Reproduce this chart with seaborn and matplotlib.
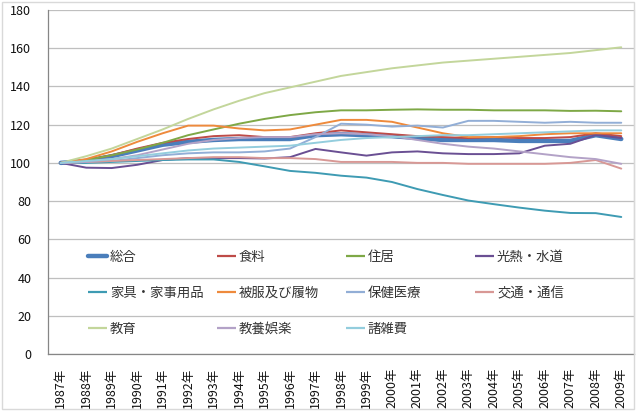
import matplotlib
matplotlib.use("Agg")
import matplotlib.pyplot as plt
from matplotlib.patches import Rectangle
from matplotlib.lines import Line2D
from matplotlib.ticker import FixedLocator, MultipleLocator
import numpy as np
import pandas as pd
import seaborn as sns

years = ["1987年", "1988年", "1989年", "1990年", "1991年", "1992年", "1993年", "1994年",
         "1995年", "1996年", "1997年", "1998年", "1999年", "2000年", "2001年", "2002年",
         "2003年", "2004年", "2005年", "2006年", "2007年", "2008年", "2009年"]

sogo = [100, 101, 103.5, 106.5, 109.5, 111, 112, 112.5, 112.5, 112.5, 114.5, 115, 114.5,
        114, 113, 112, 112, 112, 111.5, 111.5, 111.5, 114.5, 112.5]
shokuryo = [100, 101.5, 104, 107.5, 110.5, 112.5, 114, 114.5, 113.5, 113.5, 115.5, 117, 116,
            115, 114, 113.5, 113, 113.5, 113, 113, 113.5, 115.5, 114]
jukyo = [100, 101.5, 104, 107, 110.5, 114.5, 117.5, 120.5, 123, 125, 126.5, 127.5, 127.5,
         127.8, 128, 127.8, 127.8, 127.5, 127.5, 127.5, 127.2, 127.3, 127]
konetsu = [100, 97.5, 97.3, 99, 101.5, 102.5, 102.5, 102.5, 102.3, 103, 107.3, 105.5, 103.8,
           105.5, 106, 105, 104.6, 104.6, 105, 109, 110, 114.6, 113]
kagu = [100, 100, 100.5, 101, 101.5, 101.8, 101.8, 100.5, 98.2, 95.8, 94.8, 93.3, 92.3,
        90, 86.3, 83.2, 80.3, 78.4, 76.6, 75, 73.8, 73.7, 71.7]
hifuku = [100, 102, 106, 111, 115.5, 119.5, 119.5, 118, 117, 117.5, 120, 122.5, 122.5,
          121.5, 118.5, 115.5, 113.5, 113.5, 114, 115, 115.5, 115.5, 115.5]
hoken = [100, 100.5, 101, 102.5, 104, 105, 105.5, 105.5, 106, 107.5, 113.5, 120.5, 120,
         119, 119.5, 118.5, 122, 122, 121.5, 121, 121.5, 121, 121]
kotsu = [100, 100.5, 101, 101.5, 102, 102.5, 103, 103, 102.5, 102.5, 102, 100.5, 100.5,
         100.5, 100, 100, 99.5, 99.5, 99.5, 99.5, 100, 101.5, 97]
kyoiku = [100, 103.5, 107.5, 112.5, 117.5, 123, 128, 132.5, 136.5, 139.5, 142.5, 145.5, 147.5,
          149.5, 151, 152.5, 153.5, 154.5, 155.5, 156.5, 157.5, 159, 160.5]
kyoyo = [100, 100.5, 102, 104, 107, 110, 112, 113, 113.5, 113.5, 115, 115.5, 115,
         114, 112, 110, 108.5, 107.5, 106, 104.5, 103, 102, 99.5]
shozappi = [100, 101, 102, 103.5, 105, 106.5, 107.5, 108, 108.5, 109, 110.5, 112, 113,
            113.5, 114, 114.5, 114.5, 115, 115.5, 116, 116.5, 117, 117]

names = ["総合", "食料", "住居", "光熱・水道", "家具・家事用品", "被服及び履物",
         "保健医療", "交通・通信", "教育", "教養娯楽", "諸雑費"]
series = [sogo, shokuryo, jukyo, konetsu, kagu, hifuku, hoken, kotsu, kyoiku, kyoyo, shozappi]
colors = ["#4A7EBB", "#BE4B48", "#7EA846", "#6A4F93", "#3E9BB3", "#EE8A3C",
          "#92AED6", "#D89895", "#C3D69B", "#B3A2C7", "#93CDDD"]
widths = [3.2, 1.4, 1.4, 1.4, 1.4, 1.4, 1.4, 1.4, 1.4, 1.4, 1.4]

sns.set_style("white")
plt.rcParams["font.family"] = ["Noto Sans CJK JP", "DejaVu Sans"]

W, H = 639, 411
fig = plt.figure(figsize=(W / 100, H / 100), dpi=100)
ax = fig.add_axes([48 / W, 1 - 354 / H, (634 - 48) / W, (354 - 10) / H])

x = np.arange(len(years))
handles = {}
for name, vals, c, lw in zip(names, series, colors, widths):
    df = pd.DataFrame({"x": x, "v": vals})
    sns.lineplot(data=df, x="x", y="v", ax=ax, color=c, linewidth=lw, legend=False)
    handles[name] = Line2D([0], [0], color=c, lw=lw if lw > 2 else 1.6,
                           solid_capstyle="round" if lw > 2 else "butt")

ax.set_xlim(-0.5, len(years) - 0.5)
ax.set_ylim(0, 180)
ax.yaxis.set_major_locator(MultipleLocator(20))
ax.set_xticks(x)
ax.set_xticklabels(years, rotation=90, fontsize=9, color="#111111")
ax.xaxis.set_minor_locator(FixedLocator(np.arange(-0.5, len(years), 1.0)))
ax.tick_params(axis="x", which="major", length=0, pad=10)
ax.tick_params(axis="x", which="minor", length=4, color="#868686", width=0.8, direction="out")
ax.tick_params(axis="y", which="major", length=4, color="#868686", width=0.8, pad=8,
               labelsize=9, labelcolor="#111111", direction="out")
ax.set_xlabel("")
ax.set_ylabel("")
ax.grid(axis="y", color="#BFBFBF", lw=0.9)
ax.grid(axis="x", visible=False)
ax.set_axisbelow(True)
ax.spines["top"].set_visible(False)
for s in ["left", "bottom"]:
    ax.spines[s].set_color("#868686")
    ax.spines[s].set_linewidth(0.9)
ax.spines["right"].set_color("#D0D0D0")
ax.spines["right"].set_linewidth(0.9)

# legend: four columns, Excel-like row-major order
cols = [["総合", "家具・家事用品", "教育"],
        ["食料", "被服及び履物", "教養娯楽"],
        ["住居", "保健医療", "諸雑費"],
        ["光熱・水道", "交通・通信"]]
col_x = [88, 217, 346, 475]
for cx, cnames in zip(col_x, cols):
    leg = fig.legend([handles[n] for n in cnames], cnames,
                     loc="upper left", bbox_to_anchor=(cx / W, 1 - 250 / H),
                     frameon=False, fontsize=9.6, handlelength=1.45, handletextpad=0.2,
                     labelspacing=1.65, borderpad=0, borderaxespad=0)
    for t in leg.get_texts():
        t.set_color("#333333")

fig.patches.append(Rectangle((2 / W, 2 / H), (634 - 2) / W, (409 - 2) / H,
                             transform=fig.transFigure, fill=False,
                             edgecolor="#D9D9D9", lw=1.0))

fig.savefig("out.png", dpi=100)
